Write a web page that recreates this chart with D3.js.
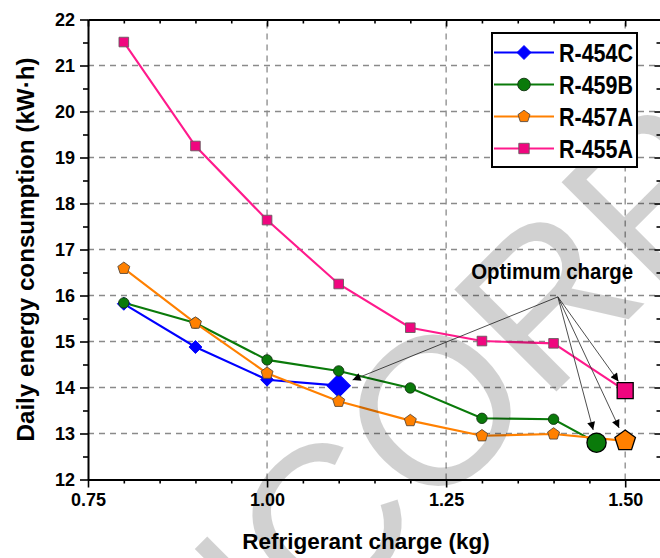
<!DOCTYPE html>
<html>
<head>
<meta charset="utf-8">
<script src="https://cdn.jsdelivr.net/npm/d3@7/dist/d3.min.js"></script>
<style>
  body { margin: 0; background: #fff; }
  svg { display: block; }
  text { font-family: "Liberation Sans", Arial, sans-serif; font-weight: bold; fill: #000; }
</style>
</head>
<body>
<svg id="chart" width="660" height="558"></svg>
<script>
// Refrigerant charge (kg) and daily energy consumption (kW·h) per refrigerant
const chargeR454C = [0.8, 0.9, 1.0, 1.1];
const energyR454C = [15.82, 14.88, 14.17, 14.04];

const chargeR459B = [0.8, 0.9, 1.0, 1.1, 1.2, 1.3, 1.4, 1.46];
const energyR459B = [15.84, 15.40, 14.60, 14.36, 13.99, 13.33, 13.31, 12.80];

const chargeR457A = [0.8, 0.9, 1.0, 1.1, 1.2, 1.3, 1.4, 1.5];
const energyR457A = [16.59, 15.40, 14.31, 13.70, 13.28, 12.95, 12.99, 12.84];

const chargeR455A = [0.8, 0.9, 1.0, 1.1, 1.2, 1.3, 1.4, 1.5];
const energyR455A = [21.51, 19.25, 17.64, 16.25, 15.30, 15.01, 14.96, 13.93];

const seriesNames = ["R-454C", "R-459B", "R-457A", "R-455A"];

const xMajorTicks = [0.75, 1.00, 1.25, 1.50];
const yMajorTicks = [12, 13, 14, 15, 16, 17, 18, 19, 20, 21, 22];

const svg = d3.select("#chart");
const x = d3.scaleLinear().domain([0.75, 1.55]).range([88, 661]);
const y = d3.scaleLinear().domain([12, 22]).range([479.5, 19.5]);

const xMinor = d3.range(0.75, 1.5501, 0.05).map(v => +v.toFixed(2)).filter(v => !xMajorTicks.includes(v));
const yMinor = d3.range(12.5, 22, 1);

// dashed grid
const grid = svg.append("g").attr("stroke", "#8a8a8a").attr("stroke-width", 1.3).attr("stroke-dasharray", "6,5");
grid.selectAll("line.h").data(yMajorTicks.filter(v => v > 12 && v < 22)).join("line")
  .attr("x1", x(0.75)).attr("x2", x(1.55)).attr("y1", d => y(d)).attr("y2", d => y(d));
grid.selectAll("line.v").data([1.00, 1.25, 1.50]).join("line")
  .attr("x1", d => x(d)).attr("x2", d => x(d)).attr("y1", y(12)).attr("y2", y(22));

// axes
function styleAxis(g) {
  g.select(".domain").attr("stroke", "#000").attr("stroke-width", 2);
  g.selectAll(".tick line").attr("stroke", "#000").attr("stroke-width", 1.6);
  g.selectAll(".tick text").attr("font-size", 18).attr("fill", "#000")
    .attr("font-family", '"Liberation Sans", Arial, sans-serif').attr("font-weight", "bold");
}
const gxb = svg.append("g").attr("transform", `translate(0,${y(12)})`);
gxb.call(d3.axisBottom(x).tickValues(xMajorTicks).tickSize(8).tickSizeOuter(0).tickPadding(6).tickFormat(d3.format(".2f")));
styleAxis(gxb);
svg.append("g").attr("transform", `translate(0,${y(12)})`)
  .call(d3.axisBottom(x).tickValues(xMinor).tickSize(4).tickSizeOuter(0).tickFormat(""))
  .call(g => { g.select(".domain").remove(); styleAxis(g); });

const gxt = svg.append("g").attr("transform", `translate(0,${y(22)})`);
gxt.call(d3.axisTop(x).tickValues(xMajorTicks).tickSize(-7).tickSizeOuter(0).tickFormat(""));
styleAxis(gxt);
svg.append("g").attr("transform", `translate(0,${y(22)})`)
  .call(d3.axisTop(x).tickValues(xMinor).tickSize(-4).tickSizeOuter(0).tickFormat(""))
  .call(g => { g.select(".domain").remove(); styleAxis(g); });

const gyl = svg.append("g").attr("transform", `translate(${x(0.75)},0)`);
gyl.call(d3.axisLeft(y).tickValues(yMajorTicks).tickSize(8).tickSizeOuter(0).tickPadding(5).tickFormat(d3.format("d")));
styleAxis(gyl);
svg.append("g").attr("transform", `translate(${x(0.75)},0)`)
  .call(d3.axisLeft(y).tickValues(yMinor).tickSize(5).tickSizeOuter(0).tickFormat(""))
  .call(g => { g.select(".domain").remove(); styleAxis(g); });

// right frame sits just past the edge; only its inward ticks show
const rightEdge = x(1.55) + 1.5;
const gyr = svg.append("g").attr("transform", `translate(${rightEdge},0)`);
gyr.call(d3.axisRight(y).tickValues(yMajorTicks).tickSize(-8).tickSizeOuter(0).tickFormat(""));
styleAxis(gyr);
svg.append("g").attr("transform", `translate(${rightEdge},0)`)
  .call(d3.axisRight(y).tickValues(yMinor).tickSize(-6).tickSizeOuter(0).tickFormat(""))
  .call(g => { g.select(".domain").remove(); styleAxis(g); });

// axis titles
svg.append("text").attr("x", 366).attr("y", 549).attr("text-anchor", "middle")
  .attr("font-size", 22.5).text("Refrigerant charge (kg)");
svg.append("text").attr("transform", `translate(34,${y(17)}) rotate(-90)`).attr("text-anchor", "middle")
  .attr("font-size", 23.5).attr("textLength", 384).attr("lengthAdjust", "spacingAndGlyphs")
  .text("Daily energy consumption (kW·h)");

// marker shapes
function pentagonPath(r) {
  const pts = d3.range(5).map(k => {
    const a = -Math.PI / 2 + k * 2 * Math.PI / 5;
    return [r * Math.cos(a), r * Math.sin(a)];
  });
  return "M" + pts.map(p => p.join(",")).join("L") + "Z";
}
function diamondPath(r) { return `M0,${-r}L${r},0L0,${r}L${-r},0Z`; }
function squarePath(r) { return `M${-r},${-r}H${r}V${r}H${-r}Z`; }
function circlePath(r) { return d3.arc()({innerRadius: 0, outerRadius: r, startAngle: 0, endAngle: 2 * Math.PI}); }

const styles = {
  "R-454C": {color: "#0000ff", fill: "#0000ff", stroke: "#0000ff", shape: diamondPath, small: 6.5, big: 11.5},
  "R-459B": {color: "#0a7a0a", fill: "#0a7a0a", stroke: "#113311", shape: circlePath, small: 5.2, big: 9.6},
  "R-457A": {color: "#ff8000", fill: "#ff8000", stroke: "#5a4a3a", shape: pentagonPath, small: 6.3, big: 10.8},
  "R-455A": {color: "#ff1a8c", fill: "#f0067f", stroke: "#6a5a60", shape: squarePath, small: 4.8, big: 8}
};

const data = [
  {name: "R-454C", c: chargeR454C, v: energyR454C},
  {name: "R-459B", c: chargeR459B, v: energyR459B},
  {name: "R-457A", c: chargeR457A, v: energyR457A},
  {name: "R-455A", c: chargeR455A, v: energyR455A}
].map(s => ({name: s.name, pts: s.c.map((c, i) => ({c, v: s.v[i], opt: i === s.c.length - 1}))}));

const line = d3.line().x(d => x(d.c)).y(d => y(d.v));
const plot = svg.append("g");
// draw order keeps pink behind, orange on top
const order = ["R-455A", "R-454C", "R-459B", "R-457A"];
order.forEach(name => {
  const s = data.find(d => d.name === name);
  const st = styles[name];
  plot.append("path").attr("d", line(s.pts)).attr("fill", "none")
    .attr("stroke", st.color).attr("stroke-width", 2.1);
});
order.forEach(name => {
  const s = data.find(d => d.name === name);
  const st = styles[name];
  plot.selectAll(null).data(s.pts).join("path")
    .attr("transform", d => `translate(${x(d.c)},${y(d.v)})`)
    .attr("d", d => st.shape(d.opt ? st.big : st.small))
    .attr("fill", st.fill)
    .attr("stroke", d => d.opt ? (name === "R-454C" ? st.stroke : "#000") : st.stroke)
    .attr("stroke-width", d => d.opt ? 1.3 : 0.9);
});

// optimum charge annotation
const labelAt = {c: 1.398, v: 16.36};
const arrowFrom = {c: 1.406, v: 15.97};
svg.append("defs").append("marker").attr("id", "arrowhead")
  .attr("viewBox", "0 0 10 10").attr("refX", 10).attr("refY", 5)
  .attr("markerWidth", 10).attr("markerHeight", 8).attr("markerUnits", "userSpaceOnUse")
  .attr("orient", "auto")
  .append("path").attr("d", "M0,0L10,5L0,10Z").attr("fill", "#000");
const ann = svg.append("g");
data.forEach(s => {
  const p = s.pts[s.pts.length - 1];
  const st = styles[s.name];
  const x0 = x(arrowFrom.c), y0 = y(arrowFrom.v);
  const x1 = x(p.c), y1 = y(p.v);
  const L = Math.hypot(x1 - x0, y1 - y0);
  const cut = st.big + 3.5;
  ann.append("line").attr("x1", x0).attr("y1", y0)
    .attr("x2", x1 - (x1 - x0) * cut / L).attr("y2", y1 - (y1 - y0) * cut / L)
    .attr("stroke", "#3a3a3a").attr("stroke-width", 0.9).attr("marker-end", "url(#arrowhead)");
});
ann.append("text").attr("x", x(labelAt.c)).attr("y", y(labelAt.v)).attr("text-anchor", "middle")
  .attr("font-size", 22.5).attr("textLength", 162).attr("lengthAdjust", "spacingAndGlyphs").text("Optimum charge");

// watermark across the figure (the legend box sits above it)
svg.append("text").attr("transform", "translate(107,841) rotate(-45)")
  .attr("font-size", 210).style("font-weight", "normal")
  .attr("fill", "#7a7a7a").attr("fill-opacity", 0.18).text("UNCORRECTED PROOF");

// legend
const legend = svg.append("g").attr("transform", "translate(492,33)");
legend.append("rect").attr("width", 145).attr("height", 134).attr("fill", "#fff")
  .attr("stroke", "#000").attr("stroke-width", 2);
seriesNames.forEach((name, i) => {
  const st = styles[name];
  const row = legend.append("g").attr("transform", `translate(0,${19.5 + i * 32})`);
  row.append("line").attr("x1", 2).attr("x2", 62).attr("stroke", st.color).attr("stroke-width", 2.1);
  row.append("path").attr("transform", "translate(32,0)")
    .attr("d", st.shape(name === "R-454C" ? 7 : name === "R-455A" ? 5.2 : 6.3))
    .attr("fill", st.fill).attr("stroke", st.stroke).attr("stroke-width", 0.9);
  row.append("text").attr("x", 67).attr("y", 9.5).attr("font-size", 26)
    .attr("textLength", 74).attr("lengthAdjust", "spacingAndGlyphs").text(name);
});
</script>
</body>
</html>
